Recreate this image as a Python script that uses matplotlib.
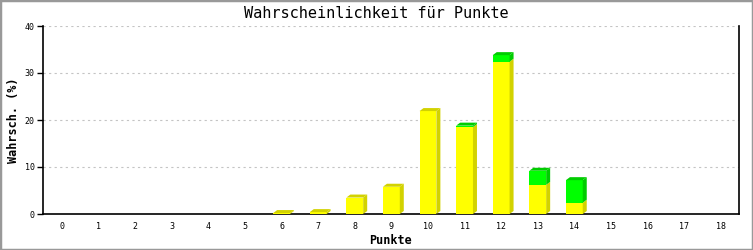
import matplotlib
matplotlib.use("Agg")
import matplotlib.pyplot as plt
from matplotlib.patches import Polygon, Rectangle

# data
punkte = list(range(19))
gelb = [0, 0, 0, 0, 0, 0, 0.2, 0.4, 3.5, 5.8, 21.9, 18.5, 32.4, 6.2, 2.4, 0, 0, 0, 0]
gruen = [0, 0, 0, 0, 0, 0, 0, 0, 0, 0, 0, 0.3, 1.4, 3.0, 4.8, 0, 0, 0, 0]
yticks = [0, 10, 20, 30, 40]

YELLOW, YELLOW_DARK = "#ffff00", "#d2d200"
GREEN, GREEN_DARK = "#00ff00", "#00cc00"

plt.rcParams["font.family"] = ["DejaVu Sans Mono", "DejaVu Sans"]

fig = plt.figure(figsize=(7.53, 2.50), dpi=100)
fig.patches.append(Rectangle((0, 0), 1, 1, transform=fig.transFigure,
                             fill=False, edgecolor="#999999", linewidth=2.5))
ax = fig.add_axes([43 / 753, 1 - 214 / 250, 696 / 753, 188 / 250])

xmin, xmax, ymin, ymax = -0.52, 18.5, 0, 40
ax.set_xlim(xmin, xmax)
ax.set_ylim(ymin, ymax)

w = 0.46
# 3d depth: ~4 px right, ~3 px up, converted to data units
dx = 4 * (xmax - xmin) / 696
dy = 3 * (ymax - ymin) / 188


def block(x, b, h, face, dark, top):
    if h <= 0:
        return
    ax.bar(x, h, w, bottom=b, color=face, linewidth=0, zorder=3)
    xr = x + w / 2
    xl = x - w / 2
    ax.add_patch(Polygon([(xr, b), (xr, b + h), (xr + dx, b + h + dy), (xr + dx, b + dy)],
                         closed=True, facecolor=dark, edgecolor="none", zorder=3))
    if top:
        ax.add_patch(Polygon([(xl, b + h), (xr, b + h), (xr + dx, b + h + dy), (xl + dx, b + h + dy)],
                             closed=True, facecolor=dark, edgecolor="none", zorder=3))


for x, g, gr in zip(punkte, gelb, gruen):
    block(x, 0, g, YELLOW, YELLOW_DARK, gr <= 0)
    block(x, g, gr, GREEN, GREEN_DARK, True)

ax.set_xticks(punkte)
ax.set_xticklabels([str(p) for p in punkte], fontsize=6)
ax.set_yticks(yticks)
ax.set_yticklabels([str(t) for t in yticks], fontsize=6)
ax.tick_params(axis="x", length=0, pad=6)
ax.tick_params(axis="y", length=4, width=1, pad=2, direction="out")

ax.grid(axis="y", color="#c4c4c4", linestyle=(0, (2, 3)), linewidth=0.8, zorder=0)
ax.set_axisbelow(True)
ax.spines["top"].set_visible(False)
for s in ["left", "bottom", "right"]:
    ax.spines[s].set_linewidth(1.2)

fig.text(0.5, 1 - 13 / 250, "Wahrscheinlichkeit für Punkte", fontsize=11,
         ha="center", va="center")
ax.set_xlabel("Punkte", fontsize=8.5, fontweight="bold", labelpad=2)
ax.set_ylabel("Wahrsch. (%)", fontsize=8.5, fontweight="bold", labelpad=3)

fig.savefig("out.png", dpi=100)
